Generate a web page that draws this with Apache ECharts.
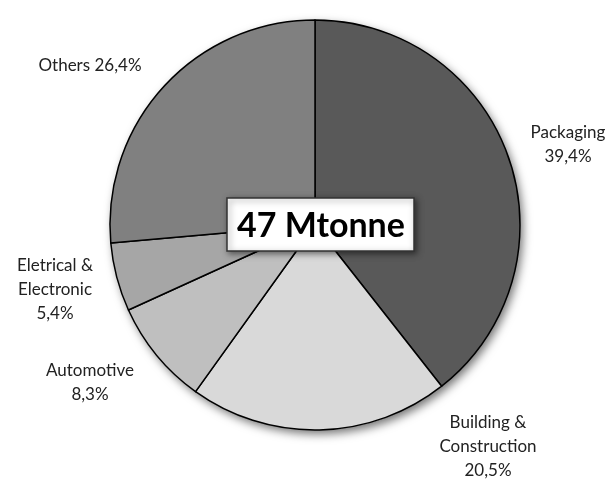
<!DOCTYPE html>
<html>
<head>
<meta charset="utf-8">
<script src="https://cdn.jsdelivr.net/npm/echarts@6/dist/echarts.min.js"></script>
<style>
  html, body { margin: 0; padding: 0; background: #fff; }
  #chart { width: 611px; height: 479px; }
</style>
</head>
<body>
<div id="chart"></div>
<script>
// 数据
var sectors = ['Packaging', 'Building &\nConstruction', 'Automotive', 'Eletrical &\nElectronic', 'Others']
var shares = [39.4, 20.5, 8.3, 5.4, 26.4]
var totalLabel = '47 Mtonne'

// 样式
var colors = ['#595959', '#d9d9d9', '#bfbfbf', '#a6a6a6', '#808080']
var labelPos = [[568, 145], [488, 447], [90, 383], [55, 290], [90, 66]]
var CENTER = [315, 225]
var RADIUS = 205

var chart = echarts.init(document.getElementById('chart'))

var pieData = sectors.map(function (name, i) {
  return { name: name, value: shares[i], itemStyle: { color: colors[i] } }
})

chart.setOption({
  animation: false,
  textStyle: { fontFamily: 'Lato, "Open Sans", sans-serif' },
  series: [
    {
      // 阴影底盘
      type: 'pie',
      silent: true,
      center: CENTER,
      radius: RADIUS,
      z: 1,
      label: { show: false },
      data: [{ value: 1, itemStyle: { color: '#fff', shadowBlur: 10, shadowOffsetX: 3, shadowOffsetY: 4, shadowColor: 'rgba(0,0,0,0.55)' } }]
    },
    {
      type: 'pie',
      center: CENTER,
      radius: RADIUS,
      startAngle: 90,
      clockwise: true,
      z: 2,
      itemStyle: { borderColor: '#000', borderWidth: 1.5 },
      label: {
        show: true,
        position: 'outside',
        overflow: 'none',
        width: 200,
        color: '#222',
        fontSize: 17,
        lineHeight: 24,
        align: 'center',
        formatter: function (p) {
          var pct = shares[p.dataIndex].toFixed(1).replace('.', ',') + '%'
          return p.dataIndex === 4 ? 'Others ' + pct : p.name + '\n' + pct
        }
      },
      labelLine: { show: false },
      labelLayout: function (params) {
        var pos = labelPos[params.dataIndex]
        return { x: pos[0], y: pos[1], align: 'center', verticalAlign: 'middle' }
      },
      data: pieData
    }
  ],
  graphic: {
    elements: [
      {
        type: 'rect',
        x: 227,
        y: 198,
        z: 100,
        shape: { x: 0, y: 0, width: 187, height: 53 },
        style: { fill: '#fff', stroke: '#333', lineWidth: 1.5, shadowBlur: 6, shadowOffsetX: 2, shadowOffsetY: 2, shadowColor: 'rgba(0,0,0,0.5)' }
      },
      {
        type: 'text',
        x: 321,
        y: 226,
        z: 101,
        style: { text: totalLabel, fontSize: 34, fontWeight: 'bold', fontFamily: 'Lato, "Open Sans", sans-serif', fill: '#000', align: 'center', verticalAlign: 'middle' }
      }
    ]
  }
})
</script>
</body>
</html>
